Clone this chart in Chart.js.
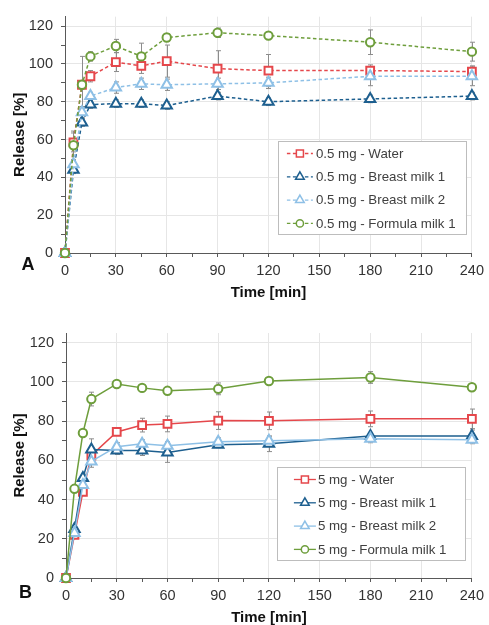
<!DOCTYPE html>
<html>
<head>
<meta charset="utf-8">
<script src="https://cdn.jsdelivr.net/npm/chart.js@4.4.1/dist/chart.umd.min.js"></script>
<style>
  body { margin: 0; background: #fff; }
  .panel { position: absolute; left: 0; }
</style>
</head>
<body>
<div class="panel" style="top:0px"><canvas id="chartA" width="489" height="300"></canvas></div>
<div class="panel" style="top:310px"><canvas id="chartB" width="489" height="315"></canvas></div>
<script>
const FONT = "'Liberation Sans', Arial, sans-serif";

// sampling times [min]
const times = [0, 5, 10, 15, 30, 45, 60, 90, 120, 180, 240];
const media = ['Water', 'Breast milk 1', 'Breast milk 2', 'Formula milk 1'];
const colors = ['#e5474b', '#1d5f8f', '#8ec0e6', '#6e9e3c'];
const shapes = ['rect', 'triangle', 'triangle', 'circle'];
const radii = [5.5, 6, 6, 4.2];

const yTicks = [0, 20, 40, 60, 80, 100, 120];
const xTicks = [0, 30, 60, 90, 120, 150, 180, 210, 240];

// A: 0.5 mg, release [%]
const waterA   = [0, 58.5, 89, 93.5, 101, 99, 101.5, 97.5, 96.5, 96.5, 96];
const breast1A = [0, 44, 69, 78.5, 79, 79, 78, 83, 80, 81.5, 83];
const breast2A = [0, 47, 74.5, 83, 87.5, 89.5, 89, 89.5, 90, 93.5, 93.5];
const formulaA = [0, 57, 89, 104, 109.5, 104, 114, 116.5, 115, 111.5, 106.5];
const waterAErr   = [0, 5, 15, 3, 5, 4, 8.5, 9.5, 8.5, 3, 3];
const breast1AErr = [0, 2, 2, 2, 2, 2, 2, 2, 2, 2, 2];
const breast2AErr = [0, 2, 3, 2, 3, 3, 3, 3, 3, 5, 5];
const formulaAErr = [0, 7.5, 2, 2.5, 3.5, 7, 2, 2.5, 2, 6.5, 5];

// B: 5 mg, release [%]
const waterB   = [0, 22, 44, 62.5, 74.5, 78, 78.6, 80.3, 80.2, 81.2, 81.2];
const breast1B = [0, 25, 51, 65.5, 65, 65, 64, 68, 68.5, 72.5, 72.5];
const breast2B = [0, 23, 47.5, 59.5, 67, 68.5, 67.5, 69.5, 70, 71, 70.5];
const formulaB = [0, 45.5, 74, 91.3, 99, 97, 95.5, 96.5, 100.5, 102.3, 97.3];
const waterBErr   = [0, 1, 2, 3, 1.5, 3.5, 4, 4.5, 4.5, 4, 5];
const breast1BErr = [0, 1.5, 2, 5.5, 2, 2.5, 5, 1.5, 4, 1.5, 3];
const breast2BErr = [0, 1, 2, 3, 2, 2, 2, 2, 2, 2, 2];
const formulaBErr = [0, 1, 1, 3.5, 1, 1.5, 1.5, 3, 1, 3, 1];

function marker(ctx, shape, x, y, r) {
  ctx.beginPath();
  if (shape === 'rect') {
    const s = r * Math.SQRT1_2;
    ctx.rect(x - s, y - s, 2 * s, 2 * s);
  } else if (shape === 'triangle') {
    let a = -Math.PI / 2;
    ctx.moveTo(x + Math.cos(a) * r, y + Math.sin(a) * r);
    for (let k = 0; k < 2; k++) {
      a += 2 * Math.PI / 3;
      ctx.lineTo(x + Math.cos(a) * r, y + Math.sin(a) * r);
    }
    ctx.closePath();
  } else {
    ctx.arc(x, y, r, 0, Math.PI * 2);
  }
  ctx.fill();
  ctx.stroke();
}

// gray +/- SD whiskers behind the markers
const errorBars = {
  id: 'errorBars',
  beforeDatasetsDraw(chart) {
    const { ctx, scales: { x, y } } = chart;
    ctx.save();
    ctx.strokeStyle = '#8c8c8c';
    ctx.lineWidth = 1;
    chart.data.datasets.forEach(ds => {
      ds.data.forEach((p, i) => {
        const e = ds.errors[i];
        if (!e) return;
        const px = Math.round(x.getPixelForValue(p.x)) + 0.5;
        const hi = y.getPixelForValue(p.y + e);
        const lo = y.getPixelForValue(p.y - e);
        ctx.beginPath();
        ctx.moveTo(px, hi); ctx.lineTo(px, lo);
        ctx.moveTo(px - 2.5, hi); ctx.lineTo(px + 2.5, hi);
        ctx.moveTo(px - 2.5, lo); ctx.lineTo(px + 2.5, lo);
        ctx.stroke();
      });
    });
    ctx.restore();
  }
};

// boxed legend in the lower right of the plot + panel letter
const boxLegend = {
  id: 'boxLegend',
  afterDraw(chart, args, opts) {
    const { ctx, chartArea } = chart;
    const w = 188, h = 93;
    const left = chartArea.right - opts.right - w;
    const top = chartArea.bottom - opts.bottom - h;
    ctx.save();
    ctx.fillStyle = '#fff';
    ctx.strokeStyle = '#bdbdbd';
    ctx.lineWidth = 1;
    ctx.fillRect(left, top, w, h);
    ctx.strokeRect(Math.round(left) + 0.5, Math.round(top) + 0.5, w, h);
    ctx.font = '13.3px ' + FONT;
    ctx.textBaseline = 'middle';
    chart.data.datasets.forEach((ds, i) => {
      const cy = top + 12.5 + i * 23.3;
      ctx.strokeStyle = ds.borderColor;
      ctx.lineWidth = 1.3;
      ctx.setLineDash(ds.borderDash || []);
      ctx.beginPath();
      ctx.moveTo(left + opts.lineFrom, cy);
      ctx.lineTo(left + opts.lineTo, cy);
      ctx.stroke();
      ctx.setLineDash([]);
      ctx.fillStyle = '#fff';
      ctx.lineWidth = 1.5;
      marker(ctx, ds.pointStyle, left + (opts.lineFrom + opts.lineTo) / 2, cy, ds.pointStyle === 'circle' ? 3.6 : 5);
      ctx.fillStyle = '#404040';
      ctx.fillText(ds.label, left + opts.textAt, cy + 0.5);
    });
    ctx.font = 'bold 18px ' + FONT;
    ctx.fillStyle = '#111';
    ctx.textAlign = 'center';
    ctx.fillText(opts.letter, opts.letterX, opts.letterY);
    ctx.restore();
  }
};

function makeDatasets(dose, series, errs, dashed) {
  return series.map((vals, i) => ({
    label: dose + ' - ' + media[i],
    data: times.map((t, k) => ({ x: t, y: vals[k] })),
    errors: errs[i],
    borderColor: colors[i],
    borderWidth: 1.5,
    borderDash: dashed ? [3.5, 2.5] : [],
    pointStyle: shapes[i],
    pointRadius: radii[i],
    pointHoverRadius: radii[i],
    pointBorderWidth: 2,
    pointBackgroundColor: '#fff',
    pointBorderColor: colors[i],
    tension: 0,
    clip: false,
    order: series.length - i
  }));
}

function axisOptions(layoutPad, legendOpts) {
  const tickCol = '#595959';
  return {
    responsive: false,
    animation: false,
    layout: { padding: layoutPad },
    plugins: {
      legend: { display: false },
      tooltip: { enabled: false },
      boxLegend: legendOpts
    },
    scales: {
      x: {
        type: 'linear',
        min: 0, max: 240,
        afterBuildTicks(scale) {
          // majors every 30 min, minor marks in between
          const t = [];
          xTicks.forEach((v, k) => {
            t.push({ value: v });
            if (k < xTicks.length - 1) t.push({ value: v + 15 });
          });
          scale.ticks = t;
        },
        afterFit(scale) { scale.height = 47; },
        ticks: {
          autoSkip: false, maxRotation: 0, padding: 5,
          color: '#333', font: { family: FONT, size: 14.5 },
          callback: v => (xTicks.includes(v) ? String(v) : '')
        },
        grid: {
          color: c => (c.tick && xTicks.includes(c.tick.value) && c.tick.value > 0 ? '#e6e6e6' : 'rgba(0,0,0,0)'),
          tickColor: tickCol, tickLength: 4, lineWidth: 1
        },
        border: { color: tickCol, width: 1 },
        title: {
          display: true, text: 'Time [min]', color: '#111',
          font: { family: FONT, size: 15, weight: 'bold', lineHeight: 1 },
          padding: 0
        }
      },
      y: {
        min: 0, max: 125,
        afterBuildTicks(scale) {
          const t = [];
          yTicks.forEach((v, k) => {
            t.push({ value: v });
            if (k < yTicks.length - 1) t.push({ value: v + 10 });
          });
          scale.ticks = t;
        },
        afterFit(scale) { scale.width = legendOpts.axisW; },
        ticks: {
          autoSkip: false, padding: 8,
          color: '#333', font: { family: FONT, size: 14.5 },
          callback: v => (yTicks.includes(v) ? String(v) : '')
        },
        grid: {
          color: c => (c.tick && yTicks.includes(c.tick.value) && c.tick.value > 0 ? '#e6e6e6' : 'rgba(0,0,0,0)'),
          tickColor: tickCol, tickLength: 4, lineWidth: 1
        },
        border: { color: tickCol, width: 1 },
        title: {
          display: true, text: 'Release [%]', color: '#111',
          font: { family: FONT, size: 15, weight: 'bold', lineHeight: 1 },
          padding: { top: 12, bottom: 0 }
        }
      }
    }
  };
}

new Chart(document.getElementById('chartA'), {
  type: 'line',
  data: {
    datasets: makeDatasets('0.5 mg',
      [waterA, breast1A, breast2A, formulaA],
      [waterAErr, breast1AErr, breast2AErr, formulaAErr], true)
  },
  options: axisOptions({ top: 6, right: 17, left: 0, bottom: 0 },
    { right: 6, bottom: 19, lineFrom: 9, lineTo: 35, textAt: 38,
      letter: 'A', letterX: 28, letterY: 265, axisW: 65 }),
  plugins: [errorBars, boxLegend]
});

new Chart(document.getElementById('chartB'), {
  type: 'line',
  data: {
    datasets: makeDatasets('5 mg',
      [waterB, breast1B, breast2B, formulaB],
      [waterBErr, breast1BErr, breast2BErr, formulaBErr], false)
  },
  options: axisOptions({ top: 23, right: 15, left: 0, bottom: 0 },
    { right: 7, bottom: 18, lineFrom: 17, lineTo: 39, textAt: 41,
      letter: 'B', letterX: 25.5, letterY: 283, axisW: 66 }),
  plugins: [errorBars, boxLegend]
});
</script>
</body>
</html>
